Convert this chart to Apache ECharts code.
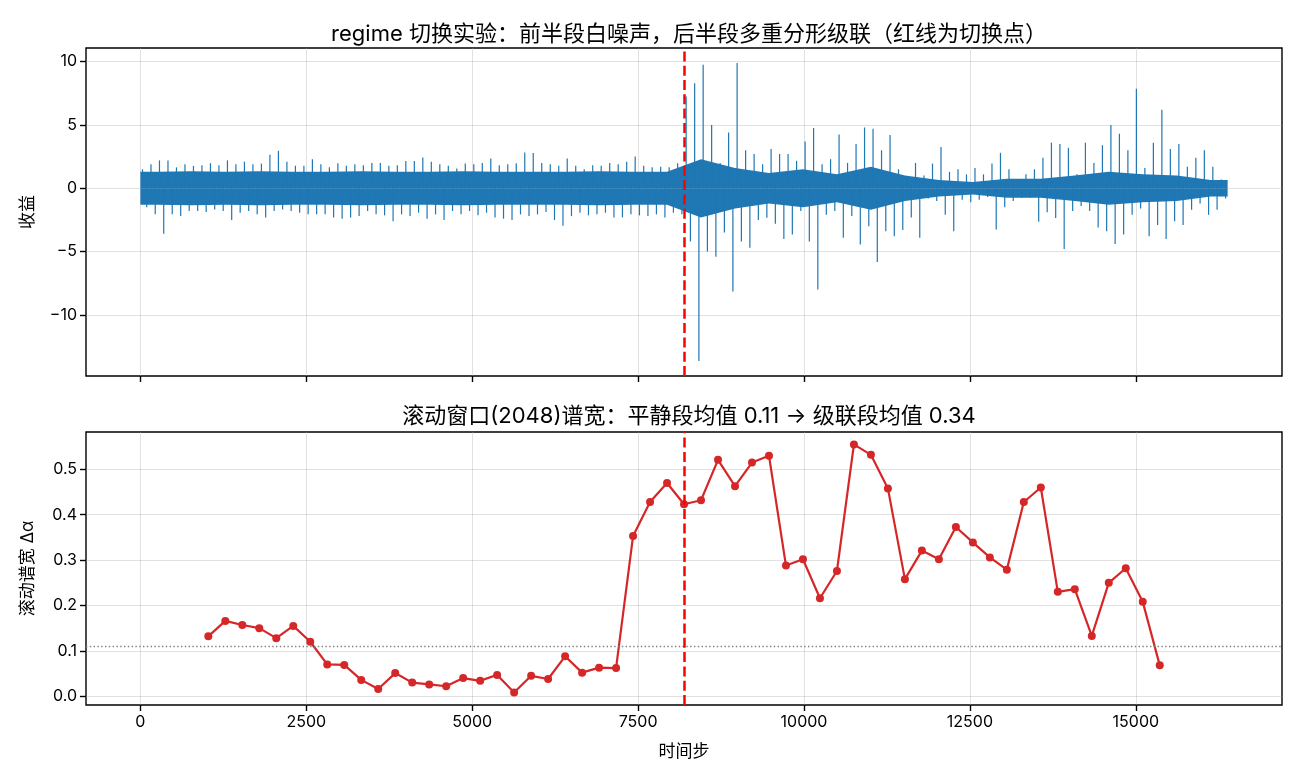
<!DOCTYPE html>
<html lang="zh">
<head>
<meta charset="UTF-8">
<title>regime 切换实验</title>
<style>
  html, body { margin: 0; padding: 0; background: #fff; }
  #chart { width: 1300px; height: 780px; }
</style>
</head>
<body>
<div id="chart"></div>
<script src="https://cdn.jsdelivr.net/npm/echarts@6/dist/echarts.min.js"></script>
<script>
// 收益序列太密(16384 点), 这里按每 128 步一个桶, 从图上读出上/下包络
var N = 16384;
var BUCKET = 128;
var retHigh = [
  1.5, 1.9, 2.2, 2.2, 1.65, 1.9, 1.77, 1.82, 1.98, 1.82, 2.2, 1.9, 2.1, 1.9, 1.95, 2.64,
  2.96, 2.1, 1.77, 1.77, 2.3, 1.9, 1.65, 1.98, 1.77, 1.9, 1.82, 2.0, 2.0, 1.77, 1.82, 2.15,
  2.15, 2.43, 2.1, 1.9, 1.77, 1.56, 1.95, 1.9, 2.0, 2.35, 1.82, 1.9, 1.98, 2.83, 2.78, 2.0,
  1.9, 1.77, 2.35, 1.77, 1.5, 1.82, 1.77, 2.0, 1.9, 2.1, 2.51, 1.77, 1.65, 1.7, 1.65, 1.98,
  7.25, 8.3, 9.76, 5.0, 2.0, 4.4, 9.9, 3.0, 2.7, 1.9, 3.1, 2.7, 2.7, 2.17, 3.7, 4.76,
  1.9, 2.3, 4.24, 2.0, 3.5, 4.8, 4.7, 3.0, 4.2, 1.5, 0.9, 2.0, 1.0, 1.95, 3.25, 1.3,
  1.5, 1.1, 1.6, 1.1, 1.95, 2.8, 1.5, 0.6, 1.1, 1.5, 2.4, 3.6, 3.5, 3.2, 1.1, 3.6,
  2.0, 3.4, 5.0, 4.3, 3.0, 7.86, 1.6, 3.6, 6.2, 3.1, 3.5, 1.7, 2.4, 3.0, 1.7, 0.7
];
var retLow = [
  -1.5, -2.06, -3.6, -2.06, -2.2, -1.8, -1.8, -1.88, -1.67, -1.8, -2.5, -1.93, -1.8, -2.06, -2.3, -1.8,
  -1.67, -1.8, -1.93, -2.06, -2.06, -2.06, -2.3, -2.4, -2.3, -2.2, -1.8, -2.06, -2.14, -2.6, -2.06, -2.2,
  -1.93, -2.4, -2.06, -2.5, -1.8, -2.06, -1.8, -2.14, -1.93, -2.3, -2.4, -2.5, -2.06, -2.2, -2.06, -1.88,
  -2.5, -2.96, -2.2, -1.93, -2.14, -2.06, -1.93, -2.3, -2.3, -2.06, -2.14, -2.2, -2.06, -2.3, -1.93, -2.06,
  -4.2, -13.65, -5.0, -5.4, -3.5, -8.15, -4.2, -4.7, -2.5, -2.33, -2.8, -4.0, -3.65, -1.8, -4.2, -8.0,
  -2.1, -1.8, -3.9, -2.2, -4.45, -3.0, -5.83, -3.4, -3.8, -3.3, -2.3, -3.9, -0.8, -1.0, -2.1, -3.4,
  -0.9, -1.1, -0.9, -0.7, -3.25, -1.5, -1.0, -0.75, -0.75, -2.65, -1.9, -2.35, -4.8, -1.8, -1.4, -1.8,
  -3.1, -3.4, -4.4, -3.65, -2.1, -1.6, -3.8, -2.9, -4.0, -2.6, -2.9, -1.7, -1.2, -2.1, -1.7, -0.8
];
// 实心核心带的半宽, 每 512 步一个
var CORE_STEP = 512;
var coreHalf = [
  1.3, 1.35, 1.3, 1.35, 1.3, 1.3, 1.35, 1.3, 1.3, 1.35, 1.3, 1.3, 1.3, 1.35, 1.3, 1.3,
  2.3, 1.6, 1.2, 1.5, 1.1, 1.7, 1.0, 0.65, 0.5, 0.75, 0.75, 1.0, 1.3, 1.1, 1.0, 0.65
];

// 滚动窗口谱宽
var winStart = 1024;
var winStep = 256;
var widthVals = [
  0.132, 0.166, 0.157, 0.150, 0.128, 0.155, 0.120, 0.070, 0.069, 0.036,
  0.016, 0.051, 0.030, 0.026, 0.022, 0.040, 0.034, 0.047, 0.008, 0.045,
  0.038, 0.088, 0.052, 0.063, 0.062, 0.353, 0.428, 0.470, 0.423, 0.432,
  0.521, 0.463, 0.515, 0.530, 0.288, 0.302, 0.216, 0.276, 0.555, 0.532,
  0.458, 0.258, 0.321, 0.302, 0.373, 0.339, 0.306, 0.279, 0.428, 0.460,
  0.230, 0.236, 0.133, 0.250, 0.282, 0.208, 0.068
];

var switchPoint = 8192;
var calmMean = 0.11;

var xTicks = [0, 2500, 5000, 7500, 10000, 12500, 15000];
var yTicksTop = [-10, -5, 0, 5, 10];
var yTicksBottom = [0, 0.1, 0.2, 0.3, 0.4, 0.5];

// ---- 构造 series 数据 ----
// 每个桶画一根向上的尖峰和一根向下的尖峰
var spikes = [];
for (var i = 0; i < retHigh.length; i++) {
  spikes.push([i * BUCKET + 32, 0, retHigh[i]]);
  spikes.push([i * BUCKET + 96, 0, retLow[i]]);
}
var coreUp = [], coreDown = [];
coreUp.push([0, coreHalf[0]]);
coreDown.push([0, -coreHalf[0]]);
for (var g = 0; g < coreHalf.length; g++) {
  coreUp.push([g * CORE_STEP + CORE_STEP / 2, coreHalf[g]]);
  coreDown.push([g * CORE_STEP + CORE_STEP / 2, -coreHalf[g]]);
}
var lastC = coreHalf[coreHalf.length - 1];
coreUp.push([N - 1, lastC]);
coreDown.push([N - 1, -lastC]);

var widthData = widthVals.map(function (v, k) { return [winStart + k * winStep, v]; });

// matplotlib 风格 5% 边距
function pad(lo, hi) { var r = hi - lo; return [lo - r * 0.05, hi + r * 0.05]; }
var xr = pad(0, N - 1);
var yrTop = pad(Math.min.apply(null, retLow), Math.max.apply(null, retHigh));
var yrBot = pad(Math.min.apply(null, widthVals), Math.max.apply(null, widthVals));

var FONT = 'Inter, "Noto Sans CJK SC", sans-serif';
var BLUE = '#1f77b4';
var gridLine = { show: true, lineStyle: { color: 'rgba(176,176,176,0.38)', width: 1 } };
var tick = { show: true, length: 6, lineStyle: { color: '#000', width: 1.4 } };

function xAxisCfg(idx, showLabel) {
  return {
    type: 'value', gridIndex: idx, min: xr[0], max: xr[1],
    axisLine: { show: false, onZero: false },
    axisTick: Object.assign({ customValues: xTicks }, tick),
    axisLabel: {
      show: showLabel, customValues: xTicks, fontSize: 16, color: '#000', margin: 9, fontFamily: FONT,
      formatter: function (v) { return String(v); }
    },
    splitLine: gridLine,
    name: showLabel ? '时间步' : '', nameLocation: 'middle', nameGap: 38,
    nameTextStyle: { fontSize: 17, color: '#000', fontFamily: FONT }
  };
}

function bandSeries(name, data) {
  return {
    name: name, type: 'line', xAxisIndex: 0, yAxisIndex: 0,
    data: data, symbol: 'none', lineStyle: { width: 0, opacity: 0 },
    areaStyle: { color: BLUE, opacity: 1, origin: 0 }, silent: true, z: 2
  };
}

var mChart = echarts.init(document.getElementById('chart'));
var option = {
  animation: false,
  backgroundColor: '#fff',
  textStyle: { fontFamily: FONT },
  title: [
    {
      text: 'regime 切换实验：前半段白噪声，后半段多重分形级联（红线为切换点）',
      left: 684, top: 18, textAlign: 'center',
      textStyle: { fontSize: 22, fontWeight: 'normal', color: '#000', fontFamily: FONT }
    },
    {
      text: '滚动窗口(2048)谱宽：平静段均值 0.11 → 级联段均值 0.34',
      left: 684, top: 400, textAlign: 'center',
      textStyle: { fontSize: 22, fontWeight: 'normal', color: '#000', fontFamily: FONT }
    }
  ],
  grid: [
    { left: 86, right: 18, top: 48, height: 328, show: true, borderColor: '#000', borderWidth: 1.4, backgroundColor: 'transparent' },
    { left: 86, right: 18, top: 432, height: 273, show: true, borderColor: '#000', borderWidth: 1.4, backgroundColor: 'transparent' }
  ],
  xAxis: [xAxisCfg(0, false), xAxisCfg(1, true)],
  yAxis: [
    {
      type: 'value', gridIndex: 0, min: yrTop[0], max: yrTop[1],
      axisLine: { show: false, onZero: false },
      axisTick: Object.assign({ customValues: yTicksTop }, tick),
      axisLabel: {
        customValues: yTicksTop, fontSize: 16, color: '#000', margin: 9, fontFamily: FONT,
        formatter: function (v) { return v < 0 ? '\u2212' + Math.abs(v) : String(v); }
      },
      splitLine: gridLine,
      name: '收益', nameLocation: 'middle', nameGap: 50,
      nameTextStyle: { fontSize: 17, color: '#000', fontFamily: FONT }
    },
    {
      type: 'value', gridIndex: 1, min: yrBot[0], max: yrBot[1],
      axisLine: { show: false, onZero: false },
      axisTick: Object.assign({ customValues: yTicksBottom }, tick),
      axisLabel: {
        customValues: yTicksBottom, fontSize: 16, color: '#000', margin: 9, fontFamily: FONT,
        formatter: function (v) { return v.toFixed(1); }
      },
      splitLine: gridLine,
      name: '滚动谱宽 Δα', nameLocation: 'middle', nameGap: 50,
      nameTextStyle: { fontSize: 17, color: '#000', fontFamily: FONT }
    }
  ],
  series: [
    bandSeries('coreUp', coreUp),
    bandSeries('coreDown', coreDown),
    {
      name: '收益', type: 'custom', xAxisIndex: 0, yAxisIndex: 0,
      data: spikes, encode: { x: 0, y: [1, 2] }, silent: true, z: 3,
      renderItem: function (params, api) {
        var p0 = api.coord([api.value(0), api.value(1)]);
        var p1 = api.coord([api.value(0), api.value(2)]);
        return {
          type: 'line',
          shape: { x1: p0[0], y1: p0[1], x2: p1[0], y2: p1[1] },
          style: { stroke: BLUE, lineWidth: 1.2 }
        };
      },
      markLine: {
        silent: true, symbol: ['none', 'none'], label: { show: false },
        lineStyle: { color: '#ff0000', type: [10, 4.3], width: 2.5 },
        data: [{ xAxis: switchPoint }]
      }
    },
    {
      name: '谱宽', type: 'line', xAxisIndex: 1, yAxisIndex: 1,
      data: widthData, symbol: 'circle', symbolSize: 8, showAllSymbol: true,
      itemStyle: { color: '#d62728' },
      lineStyle: { color: '#d62728', width: 2.2 }, z: 3,
      markLine: {
        silent: true, symbol: ['none', 'none'], label: { show: false },
        data: [
          { yAxis: calmMean, lineStyle: { color: '#808080', type: [1.4, 2.4], width: 1.3 } },
          { xAxis: switchPoint, lineStyle: { color: '#ff0000', type: [10, 4.3], width: 2.5 } }
        ]
      }
    }
  ]
};
mChart.setOption(option);
window.onresize = mChart.resize;
</script>
</body>
</html>
